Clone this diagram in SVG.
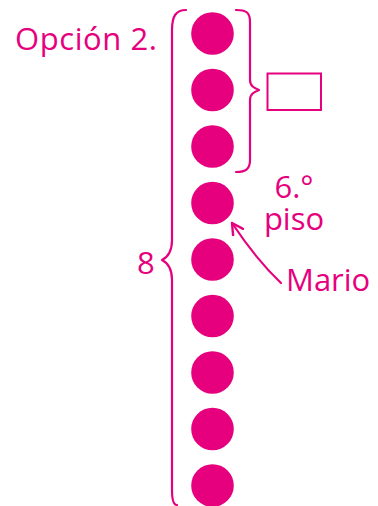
<svg xmlns="http://www.w3.org/2000/svg" width="378" height="506" viewBox="0 0 378 506">
<style>
.t{font-family:"Open Sans","Liberation Sans",sans-serif;fill:#E6007E;font-size:31px}
.dot{fill:#E6007E}
.ln{fill:none;stroke:#E6007E;stroke-width:2.2;stroke-linecap:round;stroke-linejoin:round}
</style>
<defs>
<marker id="ah" viewBox="0 0 14 14" refX="12" refY="7" markerWidth="14" markerHeight="14" markerUnits="userSpaceOnUse" orient="auto">
<path d="M1,1 L12,7 L1,13" fill="none" stroke="#E6007E" stroke-width="2.4" stroke-linecap="round" stroke-linejoin="round"/>
</marker>
</defs>
<rect width="378" height="506" fill="#fff"/>
<g id="label-opcion"><text class="t" x="15" y="50" textLength="142">Opción 2.</text></g>
<g id="dots">
<circle class="dot" cx="212.5" cy="33.5" r="21.3"/>
<circle class="dot" cx="212.5" cy="90" r="21.3"/>
<circle class="dot" cx="212.5" cy="146.5" r="21.3"/>
<circle class="dot" cx="212.5" cy="203" r="21.3"/>
<circle class="dot" cx="212.5" cy="259.5" r="21.3"/>
<circle class="dot" cx="212.5" cy="316" r="21.3"/>
<circle class="dot" cx="212.5" cy="372.5" r="21.3"/>
<circle class="dot" cx="212.5" cy="429" r="21.3"/>
<circle class="dot" cx="212.5" cy="485.5" r="21.3"/>
</g>
<g id="brace-left"><path class="ln" d="M186,10 C176,10 172,16 172,30 L172,240 C172,252 168,257 162,260 C168,263 172,268 172,280 L172,490 C172,500 174,505 177,505"/></g>
<g id="brace-right"><path class="ln" d="M236,10 C246,10 250,12 250,22 L250,80 C250,86 254,88 259,90 C254,92 250,94 250,100 L250,160 C250,169 246,172 236,172"/></g>
<g id="box"><rect x="267.5" y="73.5" width="53.5" height="36.5" fill="#fff" stroke="#E6007E" stroke-width="2"/></g>
<g id="label-8"><text class="t" x="137" y="274">8</text></g>
<g id="label-piso"><text class="t" x="294" y="198" text-anchor="middle">6.°</text><text class="t" x="294" y="230" text-anchor="middle">piso</text></g>
<g id="label-mario"><text class="t" x="286" y="291">Mario</text></g>
<g id="connectors"><path class="ln" d="M281,283 C265,268 250,250 232,223" marker-end="url(#ah)"/></g>
</svg>
